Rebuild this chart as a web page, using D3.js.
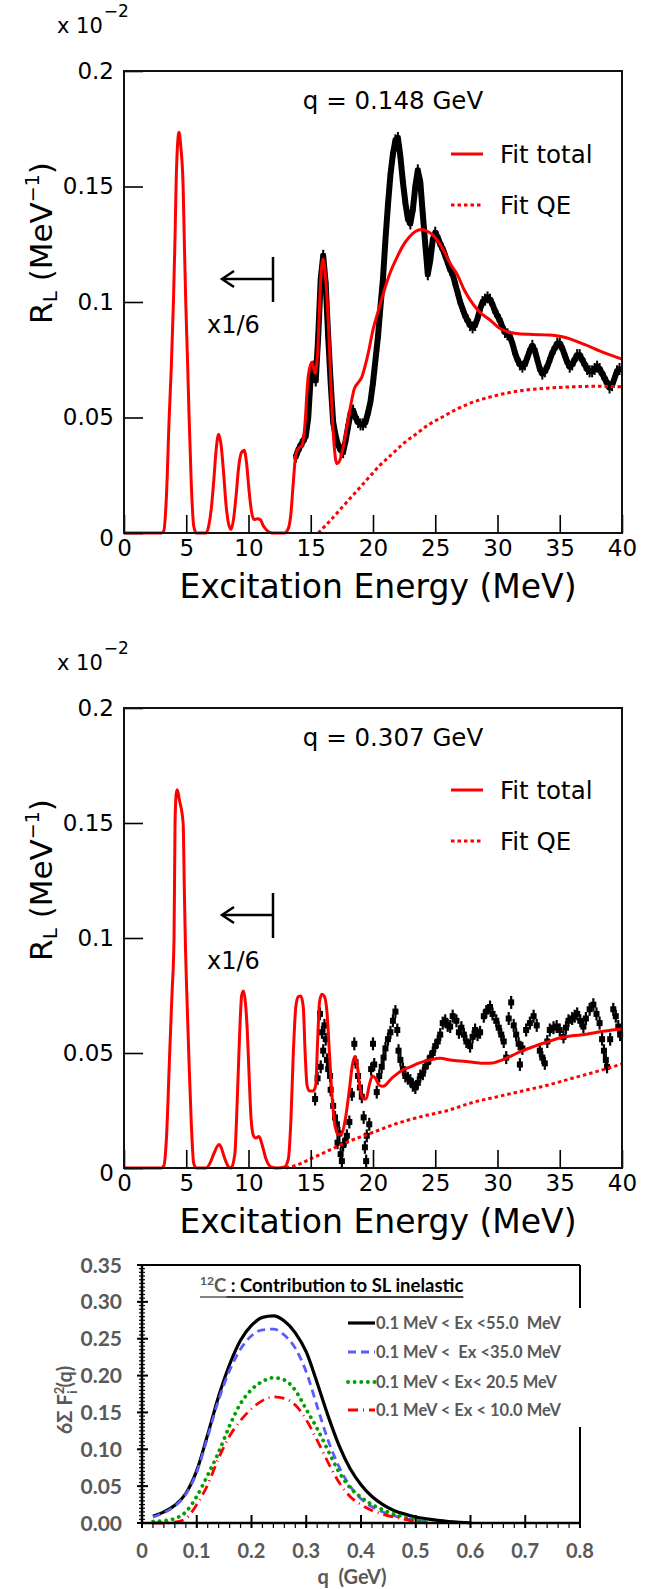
<!DOCTYPE html>
<html>
<head>
<meta charset="utf-8">
<script src="https://cdn.jsdelivr.net/npm/d3@7"></script>
<style>
html, body { margin: 0; padding: 0; background: #fff; }
svg { display: block; }
.root text { font-family: "DejaVu Sans", sans-serif; fill: #000; }
.xl text { font-family: Lato, "Open Sans", sans-serif; font-weight: bold; white-space: pre; }
</style>
</head>
<body>
<svg id="fig" width="664" height="1589"></svg>
<script>
// ---- common tick values
const xTicksE = [0, 5, 10, 15, 20, 25, 30, 35, 40];
const yTicksR = [0, 0.05, 0.1, 0.15, 0.2];
const yTickLabelsR = ["0", "0.05", "0.1", "0.15", "0.2"];

// ---- q = 0.148 GeV : [E (MeV), R_L (x10^-2 MeV^-1)]
const fitTotal148 = [
  [0, 0], [3.0, 0], [3.2, 0.001], [3.4, 0.015], [3.63, 0.05], [3.8, 0.072], [3.97, 0.1],
  [4.1, 0.128], [4.18, 0.15], [4.3, 0.168], [4.42, 0.1735], [4.55, 0.168], [4.75, 0.15],
  [4.85, 0.125], [4.96, 0.1], [5.1, 0.075], [5.23, 0.05], [5.4, 0.022], [5.6, 0.003],
  [5.8, 0], [6.6, 0], [6.8, 0.003], [7.0, 0.01], [7.2, 0.022], [7.4, 0.036], [7.6, 0.0428],
  [7.8, 0.038], [8.0, 0.026], [8.2, 0.012], [8.4, 0.004], [8.6, 0.0015], [8.8, 0.006],
  [9.0, 0.016], [9.2, 0.028], [9.45, 0.035], [9.65, 0.0358], [9.85, 0.03], [10.05, 0.018],
  [10.25, 0.009], [10.45, 0.0058], [10.7, 0.0062], [10.95, 0.0058], [11.2, 0.003],
  [11.5, 0.001], [11.9, 0], [12.9, 0], [13.2, 0.002], [13.4, 0.008], [13.6, 0.022],
  [13.8, 0.034], [14.0, 0.0365], [14.3, 0.038], [14.5, 0.045], [14.8, 0.068], [15.1, 0.074],
  [15.35, 0.069], [15.55, 0.078], [15.8, 0.11], [16.0, 0.1186], [16.2, 0.11], [16.45, 0.087],
  [16.65, 0.06], [16.85, 0.04], [17.1, 0.03], [17.3, 0.031], [17.6, 0.037], [17.9, 0.046],
  [18.2, 0.055], [18.5, 0.0625], [18.8, 0.065], [19.1, 0.0675], [19.4, 0.073], [19.7, 0.08],
  [20.0, 0.088], [20.4, 0.0957], [20.9, 0.105], [21.4, 0.113], [21.9, 0.119], [22.4, 0.1243],
  [22.9, 0.128], [23.4, 0.1305], [23.9, 0.1314], [24.4, 0.1305], [24.9, 0.1285], [25.5, 0.124],
  [26.2, 0.1167], [26.8, 0.1115], [27.3, 0.1055], [27.8, 0.1009], [28.5, 0.096], [29.4, 0.0922],
  [30.2, 0.0885], [31.0, 0.0868], [31.5, 0.0864], [32.5, 0.086], [33.5, 0.0858], [34.2, 0.0857],
  [35.0, 0.0852], [35.6, 0.0844], [36.5, 0.0826], [37.4, 0.0807], [38.2, 0.0788], [39.1, 0.077],
  [40.0, 0.0753]
];
const fitQE148 = [
  [15.6, 0], [16.5, 0.005], [17.5, 0.011], [18.5, 0.017], [19.5, 0.023], [20.5, 0.029],
  [21.5, 0.034], [22.5, 0.039], [23.5, 0.043], [24.5, 0.047], [25.5, 0.05], [26.5, 0.053],
  [27.5, 0.0555], [28.5, 0.0575], [29.5, 0.059], [30.5, 0.0603], [32, 0.0617], [34, 0.0627],
  [36, 0.0633], [38, 0.0635], [40, 0.0633]
];
const data148 = [
  [13.8, 0.033], [14.0, 0.036], [14.2, 0.038], [14.4, 0.04], [14.6, 0.042], [14.8, 0.05],
  [15.0, 0.068], [15.2, 0.072], [15.4, 0.066], [15.6, 0.085], [15.8, 0.11], [16.0, 0.12],
  [16.2, 0.108], [16.4, 0.085], [16.6, 0.065], [16.8, 0.048], [17.0, 0.042], [17.2, 0.038],
  [17.4, 0.036], [17.6, 0.035], [17.8, 0.04], [18.0, 0.046], [18.2, 0.052], [18.4, 0.053],
  [18.6, 0.05], [18.8, 0.048], [19.0, 0.047], [19.2, 0.047], [19.4, 0.048], [19.6, 0.052],
  [19.8, 0.057], [20.0, 0.065], [20.2, 0.075], [20.4, 0.085], [20.6, 0.098], [20.8, 0.11],
  [21.0, 0.127], [21.2, 0.142], [21.4, 0.155], [21.6, 0.164], [21.8, 0.17], [22.0, 0.171],
  [22.2, 0.163], [22.4, 0.152], [22.6, 0.143], [22.8, 0.136], [23.0, 0.134], [23.2, 0.14],
  [23.4, 0.15], [23.6, 0.157], [23.8, 0.152], [24.0, 0.138], [24.2, 0.125], [24.4, 0.112],
  [24.6, 0.118], [24.8, 0.127], [25.0, 0.13], [25.2, 0.128], [25.4, 0.125], [25.6, 0.123],
  [25.8, 0.12], [26.0, 0.117], [26.2, 0.114], [26.4, 0.112], [26.6, 0.108], [26.8, 0.104],
  [27.0, 0.1], [27.2, 0.097], [27.4, 0.094], [27.6, 0.092], [27.8, 0.09], [28.0, 0.089],
  [28.2, 0.09], [28.4, 0.093], [28.6, 0.097], [28.8, 0.1], [29.0, 0.101], [29.2, 0.102],
  [29.4, 0.101], [29.6, 0.099], [29.8, 0.096], [30.0, 0.094], [30.2, 0.092], [30.4, 0.089],
  [30.6, 0.087], [30.8, 0.086], [31.0, 0.085], [31.2, 0.082], [31.4, 0.078], [31.6, 0.075],
  [31.8, 0.073], [32.0, 0.072], [32.2, 0.073], [32.4, 0.076], [32.6, 0.079], [32.8, 0.081],
  [33.0, 0.079], [33.2, 0.075], [33.4, 0.071], [33.6, 0.069], [33.8, 0.07], [34.0, 0.072],
  [34.2, 0.075], [34.4, 0.078], [34.6, 0.08], [34.8, 0.082], [35.0, 0.082], [35.2, 0.08],
  [35.4, 0.077], [35.6, 0.074], [35.8, 0.072], [36.0, 0.073], [36.2, 0.075], [36.4, 0.077],
  [36.6, 0.077], [36.8, 0.075], [37.0, 0.073], [37.2, 0.071], [37.4, 0.07], [37.6, 0.07],
  [37.8, 0.071], [38.0, 0.072], [38.2, 0.071], [38.4, 0.069], [38.6, 0.067], [38.8, 0.065],
  [39.0, 0.063], [39.2, 0.064], [39.4, 0.067], [39.6, 0.07], [39.8, 0.071]
];

// ---- q = 0.307 GeV
const fitTotal307 = [
  [0, 0], [3.0, 0], [3.2, 0.001], [3.4, 0.012], [3.67, 0.05], [3.85, 0.075], [4.02, 0.1],
  [4.1, 0.15], [4.2, 0.163], [4.28, 0.1645], [4.45, 0.16], [4.75, 0.15], [4.85, 0.12],
  [4.94, 0.095], [5.05, 0.075], [5.2, 0.05], [5.4, 0.02], [5.6, 0.002], [5.8, 0], [6.6, 0],
  [6.9, 0.002], [7.2, 0.006], [7.5, 0.0095], [7.65, 0.0102], [7.8, 0.009], [8.1, 0.004],
  [8.4, 0.0005], [8.6, 0], [8.9, 0.006], [9.1, 0.03], [9.3, 0.06], [9.45, 0.075], [9.6, 0.077],
  [9.75, 0.072], [9.9, 0.06], [10.05, 0.04], [10.2, 0.022], [10.4, 0.014], [10.6, 0.013],
  [10.85, 0.0137], [11.1, 0.01], [11.4, 0.004], [11.8, 0.0005], [12.3, 0], [12.9, 0.0005],
  [13.2, 0.004], [13.4, 0.02], [13.6, 0.05], [13.8, 0.07], [14.0, 0.0745], [14.2, 0.0748],
  [14.4, 0.07], [14.55, 0.05], [14.7, 0.036], [14.9, 0.0335], [15.2, 0.0335], [15.4, 0.036],
  [15.55, 0.055], [15.7, 0.072], [15.9, 0.0755], [16.1, 0.0745], [16.3, 0.068], [16.5, 0.05],
  [16.7, 0.032], [16.9, 0.02], [17.2, 0.0145], [17.5, 0.015], [17.8, 0.022], [18.1, 0.034],
  [18.35, 0.045], [18.55, 0.0485], [18.75, 0.044], [18.95, 0.035], [19.2, 0.03], [19.45, 0.03],
  [19.7, 0.036], [19.95, 0.04], [20.2, 0.039], [20.5, 0.036], [20.8, 0.0355], [21.5, 0.039],
  [22.2, 0.042], [23, 0.044], [23.8, 0.0458], [24.6, 0.047], [25.4, 0.0477], [26.2, 0.047],
  [27.0, 0.0465], [28, 0.046], [29, 0.0455], [29.6, 0.0457], [30.4, 0.047], [31.2, 0.049],
  [32, 0.051], [33, 0.053], [34, 0.0548], [35, 0.0565], [36, 0.0575], [37, 0.058], [38, 0.059],
  [39, 0.0598], [40, 0.0604]
];
const fitQE307 = [
  [13.0, 0], [14, 0.0015], [15, 0.004], [16, 0.0065], [17, 0.009], [18, 0.0115], [19, 0.0135],
  [20, 0.0155], [22, 0.0195], [24, 0.0225], [26, 0.025], [28, 0.0285], [30, 0.031],
  [32, 0.0335], [34, 0.036], [36, 0.039], [38, 0.042], [40, 0.0452]
];
const data307 = [
  [15.35, 0.03], [15.55, 0.039], [15.74, 0.067], [15.8, 0.044], [15.9, 0.059], [16.0, 0.051],
  [16.1, 0.062], [16.2, 0.056], [16.3, 0.047], [16.4, 0.043], [16.55, 0.04], [16.6, 0.034],
  [16.8, 0.027], [16.95, 0.022], [17.1, 0.019], [17.15, 0.011], [17.3, 0.015], [17.4, 0.006],
  [17.5, 0.003], [17.6, 0.01], [17.8, 0.012], [17.9, 0.014], [18.1, 0.02], [18.3, 0.032],
  [18.5, 0.054], [18.6, 0.046], [18.8, 0.04], [18.95, 0.035], [19.1, 0.031], [19.25, 0.022],
  [19.35, 0.009], [19.45, 0.003], [19.5, 0.014], [19.7, 0.019], [19.85, 0.043], [20.0, 0.054],
  [20.1, 0.045], [20.3, 0.033], [20.5, 0.04], [20.7, 0.044], [20.85, 0.048], [21.0, 0.052],
  [21.2, 0.056], [21.4, 0.059], [21.6, 0.064], [21.8, 0.068], [21.95, 0.06], [22.05, 0.051],
  [22.2, 0.047], [22.4, 0.043], [22.6, 0.04], [22.8, 0.039], [23.0, 0.038], [23.2, 0.036],
  [23.4, 0.035], [23.6, 0.037], [23.8, 0.04], [24.0, 0.041], [24.2, 0.044], [24.4, 0.046],
  [24.6, 0.048], [24.8, 0.05], [25.0, 0.053], [25.2, 0.055], [25.4, 0.058], [25.6, 0.063],
  [25.8, 0.064], [26.0, 0.062], [26.2, 0.0615], [26.4, 0.066], [26.7, 0.064], [26.9, 0.059],
  [27.1, 0.061], [27.3, 0.058], [27.5, 0.055], [27.8, 0.053], [28.0, 0.057], [28.2, 0.06],
  [28.4, 0.058], [28.6, 0.059], [28.9, 0.066], [29.1, 0.068], [29.4, 0.07], [29.6, 0.067],
  [29.9, 0.064], [30.1, 0.061], [30.3, 0.058], [30.5, 0.055], [30.7, 0.048], [30.9, 0.065],
  [31.1, 0.072], [31.3, 0.062], [31.5, 0.058], [31.7, 0.054], [31.8, 0.045], [32.0, 0.052],
  [32.3, 0.06], [32.6, 0.063], [32.9, 0.066], [33.15, 0.062], [33.4, 0.051], [33.6, 0.048],
  [33.8, 0.0455], [34.0, 0.055], [34.2, 0.06], [34.5, 0.061], [34.75, 0.0615], [35.0, 0.06],
  [35.3, 0.057], [35.5, 0.061], [35.7, 0.064], [36.0, 0.065], [36.2, 0.066], [36.4, 0.067],
  [36.65, 0.064], [36.9, 0.0615], [37.1, 0.065], [37.4, 0.069], [37.7, 0.071], [37.95, 0.067],
  [38.2, 0.063], [38.4, 0.056], [38.55, 0.051], [38.7, 0.047], [38.8, 0.044], [39.05, 0.056],
  [39.3, 0.069], [39.5, 0.066], [39.7, 0.0615], [39.85, 0.058]
];

// ---- 12C : contribution to SL inelastic, [q (GeV), 6 sum F_i^2]
const qTicks = [0, 0.1, 0.2, 0.3, 0.4, 0.5, 0.6, 0.7, 0.8];
const sfTicks = [0, 0.05, 0.1, 0.15, 0.2, 0.25, 0.3, 0.35];
const sfEx55 = [
  [0.02, 0.009], [0.04, 0.015], [0.06, 0.024], [0.08, 0.04], [0.10, 0.071], [0.12, 0.12],
  [0.14, 0.172], [0.16, 0.215], [0.18, 0.248], [0.20, 0.268], [0.22, 0.279], [0.24, 0.281],
  [0.26, 0.274], [0.28, 0.258], [0.30, 0.232], [0.32, 0.19], [0.34, 0.145], [0.36, 0.105],
  [0.38, 0.074], [0.40, 0.052], [0.42, 0.036], [0.44, 0.025], [0.46, 0.017], [0.48, 0.012],
  [0.50, 0.008], [0.52, 0.0055], [0.54, 0.0035], [0.56, 0.002], [0.58, 0.001], [0.60, 0.0003]
];
const sfEx35 = [
  [0.02, 0.008], [0.04, 0.014], [0.06, 0.023], [0.08, 0.039], [0.10, 0.069], [0.12, 0.117],
  [0.14, 0.167], [0.16, 0.207], [0.18, 0.236], [0.20, 0.254], [0.22, 0.262], [0.24, 0.263],
  [0.26, 0.255], [0.28, 0.237], [0.30, 0.205], [0.32, 0.158], [0.34, 0.112], [0.36, 0.076],
  [0.38, 0.05], [0.40, 0.033], [0.42, 0.022], [0.44, 0.015], [0.46, 0.01], [0.48, 0.006],
  [0.50, 0.004], [0.52, 0.002]
];
const sfEx205 = [
  [0.02, 0.002], [0.04, 0.003], [0.06, 0.006], [0.08, 0.015], [0.10, 0.036], [0.12, 0.065],
  [0.14, 0.096], [0.16, 0.132], [0.18, 0.162], [0.20, 0.181], [0.22, 0.192], [0.24, 0.197],
  [0.26, 0.194], [0.28, 0.18], [0.30, 0.154], [0.32, 0.128], [0.34, 0.098], [0.36, 0.069],
  [0.38, 0.048], [0.40, 0.035], [0.42, 0.025], [0.44, 0.018], [0.46, 0.012], [0.48, 0.008],
  [0.50, 0.004], [0.52, 0.001]
];
const sfEx10 = [
  [0.02, 0], [0.04, 0], [0.06, 0.001], [0.08, 0.006], [0.10, 0.025], [0.12, 0.052],
  [0.14, 0.088], [0.16, 0.118], [0.18, 0.139], [0.20, 0.155], [0.22, 0.166], [0.24, 0.171],
  [0.26, 0.169], [0.28, 0.16], [0.30, 0.14], [0.32, 0.112], [0.34, 0.082], [0.36, 0.055],
  [0.38, 0.036], [0.40, 0.025], [0.42, 0.017], [0.44, 0.012], [0.46, 0.008], [0.48, 0.005],
  [0.50, 0.002], [0.52, 0]
];
const sfSeriesNames = [
  "0.1 MeV < Ex <55.0  MeV",
  "0.1 MeV <  Ex <35.0 MeV",
  "0.1 MeV < Ex< 20.5 MeV",
  "0.1 MeV < Ex < 10.0 MeV"
];

const svg = d3.select("#fig");
const RED = "#ff0000";

function drawRootPanel(p) {
    const x = d3.scaleLinear().domain([0, 40]).range([124, 622]);
    const y = d3.scaleLinear().domain([0, 0.2]).range([p.bottom, p.top]);
    const g = svg.append("g").classed("root", true);

    // measured points with error bars (dense spectra read as a band)
    const pts = g.append("g");
    if (p.band)
        pts.append("path").datum(p.data)
            .attr("d", d3.line().x(d => x(d[0])).y(d => y(d[1])))
            .attr("fill", "none").attr("stroke", "#000").attr("stroke-width", p.band)
            .attr("stroke-linejoin", "round");
    pts.selectAll("line").data(p.data).join("line")
        .attr("x1", d => x(d[0])).attr("x2", d => x(d[0]))
        .attr("y1", d => y(d[1]) - p.err).attr("y2", d => y(d[1]) + p.err)
        .attr("stroke", "#000").attr("stroke-width", p.errW);
    pts.selectAll("rect").data(p.data).join("rect")
        .attr("x", d => x(d[0]) - p.mk / 2).attr("y", d => y(d[1]) - p.mk / 2)
        .attr("width", p.mk).attr("height", p.mk).attr("fill", "#000");

    const line = d3.line().x(d => x(d[0])).y(d => y(d[1])).curve(d3.curveMonotoneX);
    g.append("path").datum(p.qe).attr("d", line)
        .attr("fill", "none").attr("stroke", RED).attr("stroke-width", 3)
        .attr("stroke-dasharray", "3.5 3");
    g.append("path").datum(p.fit).attr("d", line)
        .attr("fill", "none").attr("stroke", RED).attr("stroke-width", 3);

    // axes (ticks inside, like ROOT)
    const ax = g.append("g").attr("transform", `translate(0,${p.bottom})`)
        .call(d3.axisBottom(x).tickValues(xTicksE).tickSize(-18).tickPadding(7));
    const ay = g.append("g").attr("transform", "translate(124,0)")
        .call(d3.axisLeft(y).tickValues(yTicksR).tickSize(-19).tickPadding(10)
            .tickFormat((d, i) => yTickLabelsR[i]));
    [ax, ay].forEach(a => {
        a.select(".domain").remove();
        a.selectAll("line").attr("stroke", "#000").attr("stroke-width", 1.6);
        a.selectAll("text").attr("font-family", "DejaVu Sans").attr("font-size", 23).attr("fill", "#000");
    });
    ay.selectAll(".tick").filter(d => d === 0).select("text").attr("dy", "0.55em");

    g.append("rect").attr("x", 124).attr("y", p.top).attr("width", 498).attr("height", p.bottom - p.top)
        .attr("fill", "none").attr("stroke", "#111").attr("stroke-width", 2);

    // exponent note
    const ex = g.append("text").attr("x", 57).attr("y", p.top - 38).attr("font-size", 21);
    ex.append("tspan").text("x 10");
    ex.append("tspan").attr("dy", -16).attr("dx", 1).attr("font-size", 17).text("\u22122");

    g.append("text").attr("x", 393).attr("y", p.top + 38).attr("text-anchor", "middle")
        .attr("font-size", 24.5).text(p.title);

    // legend
    g.append("line").attr("x1", 451).attr("x2", 483).attr("y1", p.leg1).attr("y2", p.leg1)
        .attr("stroke", RED).attr("stroke-width", 3);
    g.append("text").attr("x", 500).attr("y", p.leg1 + 9).attr("font-size", 24.5).text("Fit total");
    g.append("line").attr("x1", 451).attr("x2", 483).attr("y1", p.leg2).attr("y2", p.leg2)
        .attr("stroke", RED).attr("stroke-width", 3).attr("stroke-dasharray", "3.5 3");
    g.append("text").attr("x", 500).attr("y", p.leg2 + 9).attr("font-size", 24.5).text("Fit QE");

    // scale-down marker
    const ar = g.append("g").attr("fill", "none").attr("stroke", "#000").attr("stroke-width", 2.5);
    ar.append("line").attr("x1", 222).attr("x2", 273).attr("y1", p.arrow).attr("y2", p.arrow);
    ar.append("line").attr("x1", 273).attr("x2", 273).attr("y1", p.arrow - 22).attr("y2", p.arrow + 23);
    ar.append("path").attr("d", `M234,${p.arrow - 8}L222,${p.arrow}L234,${p.arrow + 8}`);
    g.append("text").attr("x", 207).attr("y", p.arrow + 54).attr("font-size", 24).text("x1/6");

    // axis titles
    g.append("text").attr("x", 378).attr("y", p.bottom + 65).attr("text-anchor", "middle")
        .attr("font-size", 33).text("Excitation Energy (MeV)");
    const yt = g.append("text").attr("transform", `translate(52,${p.top + 172}) rotate(-90)`)
        .attr("text-anchor", "middle").attr("font-size", 31);
    yt.append("tspan").text("R");
    yt.append("tspan").attr("font-size", 20).attr("dy", 5).text("L");
    yt.append("tspan").attr("dy", -5).text(" (MeV");
    yt.append("tspan").attr("font-size", 19).attr("dy", -13).text("\u22121");
    yt.append("tspan").attr("dy", 13).text(")");
}

drawRootPanel({
    top: 71, bottom: 533, data: data148, fit: fitTotal148, qe: fitQE148, band: 6,
    mk: 5, err: 6, errW: 2, title: "q = 0.148 GeV", leg1: 154, leg2: 205, arrow: 279
});
drawRootPanel({
    top: 708, bottom: 1168, data: data307, fit: fitTotal307, qe: fitQE307, band: 0,
    mk: 6, err: 6.5, errW: 2.2, title: "q = 0.307 GeV", leg1: 790, leg2: 841, arrow: 915
});

// ---- bottom panel
(function () {
    const GRAY = "#595959";
    const qx = d3.scaleLinear().domain([0, 0.8]).range([142, 580]);
    const qy = d3.scaleLinear().domain([0, 0.35]).range([1523, 1265]);
    const g = svg.append("g").classed("xl", true);

    const line = d3.line().x(d => qx(d[0])).y(d => qy(d[1])).curve(d3.curveMonotoneX);
    const styles = [
        {data: sfEx55, color: "#000", w: 3.2, dash: null, cap: "butt"},
        {data: sfEx35, color: "#5b5bff", w: 2.8, dash: "8 5", cap: "butt"},
        {data: sfEx205, color: "#00a000", w: 3.8, dash: "0.1 6.5", cap: "round"},
        {data: sfEx10, color: RED, w: 2.8, dash: "10 5 1 5", cap: "butt"}
    ];
    styles.forEach(s => {
        g.append("path").datum(s.data).attr("d", line).attr("fill", "none")
            .attr("stroke", s.color).attr("stroke-width", s.w)
            .attr("stroke-dasharray", s.dash).attr("stroke-linecap", s.cap);
    });

    // frame
    g.append("line").attr("x1", 142).attr("x2", 580).attr("y1", 1265).attr("y2", 1265)
        .attr("stroke", "#000").attr("stroke-width", 2);
    g.append("line").attr("x1", 580).attr("x2", 580).attr("y1", 1265).attr("y2", 1523)
        .attr("stroke", "#000").attr("stroke-width", 2);

    // legend (white box hides part of the right frame)
    g.append("rect").attr("x", 345).attr("y", 1308).attr("width", 250).attr("height", 119).attr("fill", "#fff");
    const rows = [1323, 1352, 1382, 1410];
    styles.forEach((s, i) => {
        g.append("line").attr("x1", 348).attr("x2", 375).attr("y1", rows[i]).attr("y2", rows[i])
            .attr("stroke", s.color).attr("stroke-width", s.w)
            .attr("stroke-dasharray", s.dash).attr("stroke-linecap", s.cap);
        g.append("text").attr("x", 376).attr("y", rows[i]).attr("dy", "0.36em")
            .attr("font-size", 16.5).attr("fill", GRAY).text(sfSeriesNames[i]);
    });

    // axes
    const minorY = d3.range(0, 0.3501, 0.005);
    g.append("g").selectAll("line").data(minorY).join("line")
        .attr("x1", 139).attr("x2", 145).attr("y1", d => qy(d)).attr("y2", d => qy(d))
        .attr("stroke", "#000").attr("stroke-width", 1.2);
    g.append("g").selectAll("line").data(sfTicks).join("line")
        .attr("x1", 137).attr("x2", 148).attr("y1", d => qy(d)).attr("y2", d => qy(d))
        .attr("stroke", "#000").attr("stroke-width", 2);
    const minorX = d3.range(0, 0.8001, 0.02);
    g.append("g").selectAll("line").data(minorX).join("line")
        .attr("x1", d => qx(d)).attr("x2", d => qx(d)).attr("y1", 1523).attr("y2", 1528)
        .attr("stroke", "#000").attr("stroke-width", 1.2);
    g.append("g").selectAll("line").data(qTicks).join("line")
        .attr("x1", d => qx(d)).attr("x2", d => qx(d)).attr("y1", 1515).attr("y2", 1528)
        .attr("stroke", "#000").attr("stroke-width", 2);
    g.append("line").attr("x1", 142).attr("x2", 142).attr("y1", 1265).attr("y2", 1524)
        .attr("stroke", "#000").attr("stroke-width", 2.5);
    g.append("line").attr("x1", 141).attr("x2", 581).attr("y1", 1523).attr("y2", 1523)
        .attr("stroke", "#000").attr("stroke-width", 2.5);

    g.append("g").selectAll("text").data(sfTicks).join("text")
        .attr("x", 122).attr("y", d => qy(d)).attr("dy", "0.36em").attr("text-anchor", "end")
        .attr("font-size", 21).attr("fill", GRAY).text(d3.format(".2f"));
    g.append("g").selectAll("text").data(qTicks).join("text")
        .attr("x", d => qx(d)).attr("y", 1558).attr("text-anchor", "middle")
        .attr("font-size", 20).attr("fill", GRAY).text(d => d === 0 ? "0" : d3.format(".1f")(d));

    g.append("text").attr("x", 352).attr("y", 1584).attr("text-anchor", "middle")
        .attr("font-size", 20).attr("fill", GRAY).text("q  (GeV)");

    const yl = g.append("text").attr("transform", "translate(72,1400) rotate(-90)")
        .attr("text-anchor", "middle").attr("font-size", 20).attr("fill", GRAY);
    yl.append("tspan").text("6\u03a3 F");
    yl.append("tspan").attr("font-size", 13).attr("dy", -8).text("2");
    yl.append("tspan").attr("font-size", 13).attr("dx", -7).attr("dy", 13).text("i");
    yl.append("tspan").attr("dy", -5).attr("dx", 3).text("(q)");

    // title with underline
    const t = g.append("text").attr("x", 200).attr("y", 1292).attr("font-size", 18.5);
    const t1 = t.append("tspan").attr("fill", GRAY);
    t1.append("tspan").attr("font-size", 12).attr("dy", -7).text("12");
    t1.append("tspan").attr("dy", 7).text("C");
    t.append("tspan").attr("fill", "#000").text(" : Contribution to SL inelastic");
    const full = t.node().getComputedTextLength();
    const grayW = t1.node().getComputedTextLength ? t1.node().getComputedTextLength() : 28;
    g.append("line").attr("x1", 200).attr("x2", 200 + grayW).attr("y1", 1297).attr("y2", 1297)
        .attr("stroke", GRAY).attr("stroke-width", 1.5);
    g.append("line").attr("x1", 200 + grayW).attr("x2", 200 + full).attr("y1", 1297).attr("y2", 1297)
        .attr("stroke", "#000").attr("stroke-width", 1.5);
})();
</script>
</body>
</html>
